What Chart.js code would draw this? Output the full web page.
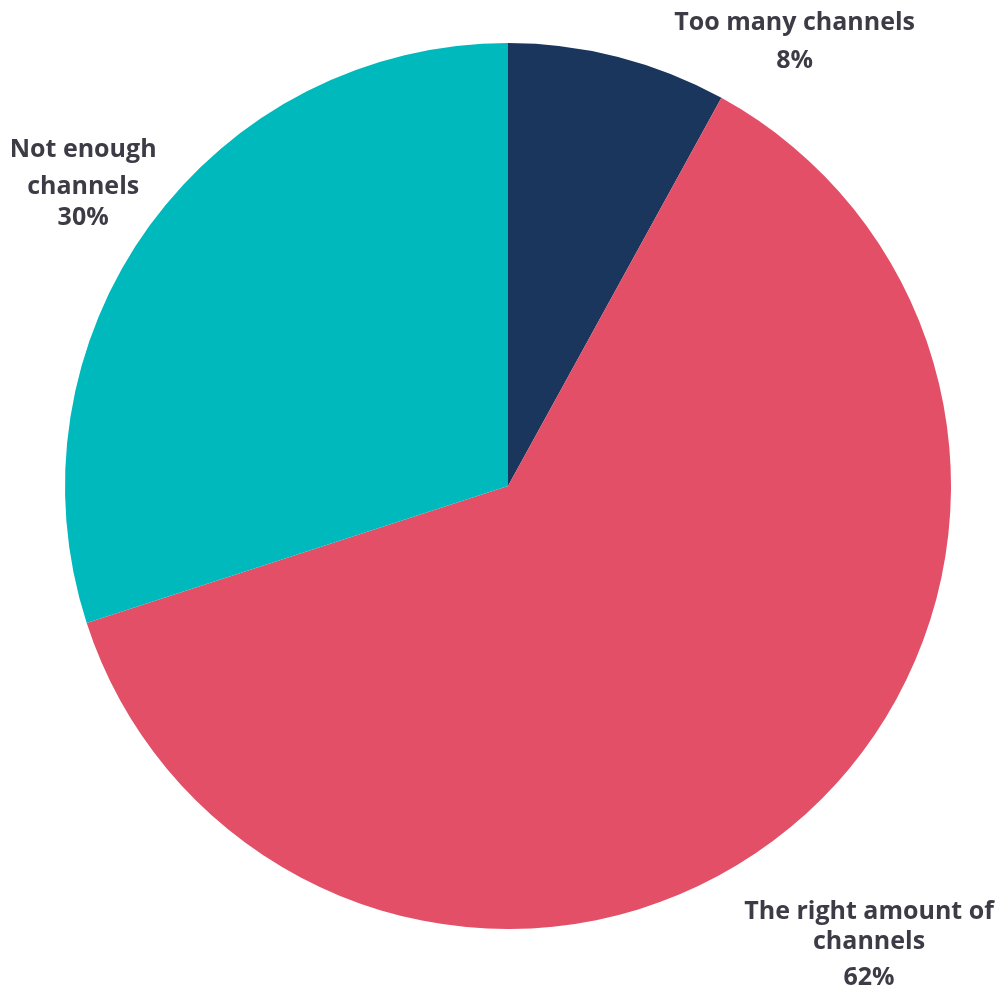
<!DOCTYPE html>
<html>
<head>
<meta charset="utf-8">
<script src="https://cdn.jsdelivr.net/npm/chart.js@4"></script>
<style>
html,body{margin:0;padding:0;background:#fff;}
#wrap{width:995px;height:993px;}
</style>
</head>
<body>
<div id="wrap"><canvas id="c" width="995" height="993"></canvas></div>
<script>
const categories = ["Too many channels", "The right amount of channels", "Not enough channels"];
const values = [8, 62, 30];
const colors = ["#1b365d", "#e34f66", "#00b9bd"];
const labelLines = [["Too many channels", "8%"], ["The right amount of", "channels", "62%"], ["Not enough", "channels", "30%"]];
// label line centres, relative to pie centre in units of radius
const labelAnchors = [
  {dx: 0.647, dy: [-1.045, -0.959]},
  {dx: 0.815, dy: [0.961, 1.030, 1.111]},
  {dx: -0.959, dy: [-0.758, -0.675, -0.605]}
];

const labelPlugin = {
  id: 'outLabels',
  afterDatasetsDraw(chart) {
    const ctx = chart.ctx;
    const meta = chart.getDatasetMeta(0);
    ctx.save();
    ctx.font = "bold 25px 'Open Sans'";
    ctx.fillStyle = "#3d3b45";
    ctx.textAlign = "center";
    ctx.textBaseline = "middle";
    meta.data.forEach((arc, i) => {
      const r = arc.outerRadius;
      const a = labelAnchors[i];
      labelLines[i].forEach((line, j) => {
        ctx.fillText(line, arc.x + a.dx * r, arc.y + a.dy[j] * r);
      });
    });
    ctx.restore();
  }
};

new Chart(document.getElementById('c'), {
  type: 'pie',
  data: {
    labels: categories,
    datasets: [{data: values, backgroundColor: colors, borderWidth: 0}]
  },
  options: {
    responsive: false,
    animation: false,
    layout: {padding: {left: 65, right: 44, top: 43, bottom: 64}},
    plugins: {legend: {display: false}, tooltip: {enabled: false}}
  },
  plugins: [labelPlugin]
});
</script>
</body>
</html>
